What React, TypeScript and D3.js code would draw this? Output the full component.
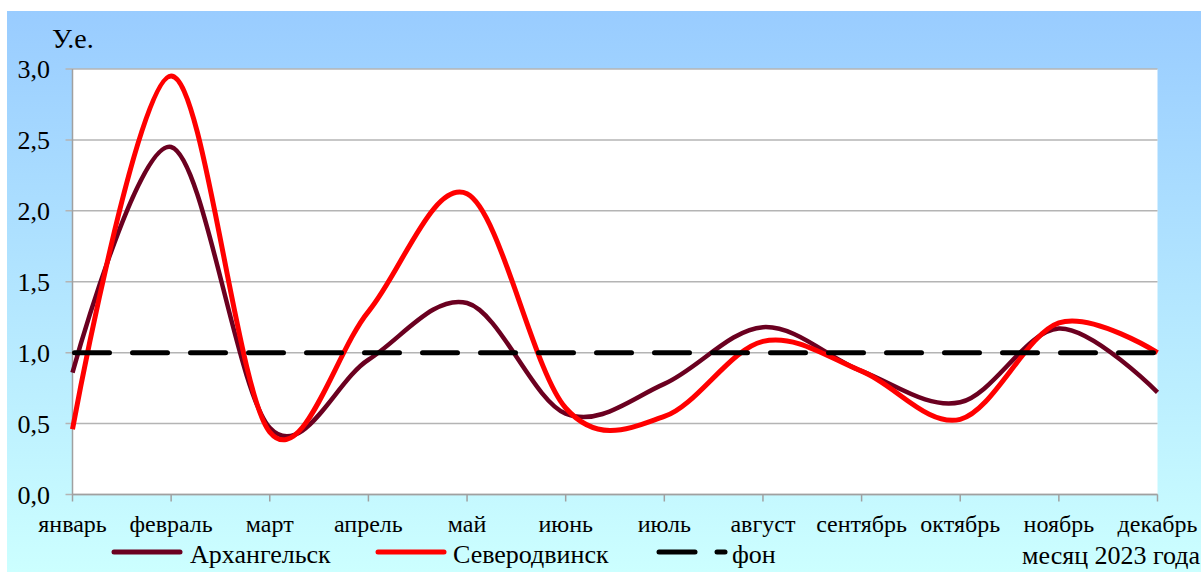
import React from "react";
import * as d3 from "d3";

const months = ["январь", "февраль", "март", "апрель", "май", "июнь", "июль", "август", "сентябрь", "октябрь", "ноябрь", "декабрь"];
const arkhangelsk = [0.86, 2.45, 0.47, 0.95, 1.35, 0.57, 0.78, 1.18, 0.87, 0.65, 1.17, 0.72];
const severodvinsk = [0.46, 2.95, 0.44, 1.29, 2.12, 0.61, 0.55, 1.08, 0.87, 0.53, 1.21, 1.0];
const background = [1.0, 1.0, 1.0, 1.0, 1.0, 1.0, 1.0, 1.0, 1.0, 1.0, 1.0, 1.0];
const yTicks = [0, 0.5, 1.0, 1.5, 2.0, 2.5, 3.0];
const seriesNames = ["Архангельск", "Северодвинск", "фон"];

const W = 1201;
const H = 572;
const left = 72.5;
const right = 1157.5;
const top = 69;
const bottom = 494.5;
const FONT = '"Liberation Serif", "DejaVu Serif", serif';

export default function App() {
  const x = d3.scalePoint<string>().domain(months).range([left, right]);
  const y = d3.scaleLinear().domain([0, 3]).range([bottom, top]);
  const smooth = d3
    .line<number>()
    .x((_, i) => x(months[i]) as number)
    .y((d) => y(d))
    .curve(d3.curveCardinal.tension(0));
  const straight = d3
    .line<number>()
    .x((_, i) => x(months[i]) as number)
    .y((d) => y(d));
  const fmt = (v: number) => v.toFixed(1).replace(".", ",");
  const ts = (size: number) => ({ fontFamily: FONT, fontSize: size + "px" });

  return (
    <svg
      width={W}
      height={H}
      style={{ position: "absolute", left: 0, top: 0, display: "block", fontFamily: FONT }}
    >
      <defs>
        <linearGradient id="bg" x1="0" y1="0" x2="0" y2="1">
          <stop offset="0%" stopColor="#99CCFF" />
          <stop offset="100%" stopColor="#CCFFFF" />
        </linearGradient>
      </defs>
      <rect x={0} y={0} width={W} height={H} fill="#ffffff" />
      <rect x={7} y={11} width={W - 7} height={H - 11} fill="url(#bg)" />
      <rect x={left} y={top} width={right - left} height={bottom - top} fill="#ffffff" />
      {yTicks.map((t) => (
        <g key={t}>
          <line x1={left - 7} x2={right} y1={y(t)} y2={y(t)} stroke="#b4b4b4" strokeWidth={1.5} />
          <text x={50} y={y(t)} dy="0.35em" textAnchor="end" style={ts(26)} fill="#000">
            {fmt(t)}
          </text>
        </g>
      ))}
      <line x1={left} x2={left} y1={top} y2={bottom} stroke="#a0a0a0" strokeWidth={1.5} />
      <line x1={left} x2={right} y1={bottom} y2={bottom} stroke="#a0a0a0" strokeWidth={1.5} />
      {months.map((m) => (
        <g key={m}>
          <line x1={x(m)} x2={x(m)} y1={bottom} y2={bottom + 7} stroke="#a0a0a0" strokeWidth={1.5} />
          <text x={x(m)} y={532} textAnchor="middle" style={ts(24)} fill="#000">
            {m}
          </text>
        </g>
      ))}
      <text x={52} y={48} style={ts(28)} fill="#000">У.е.</text>
      <path d={smooth(arkhangelsk) || ""} fill="none" stroke="#6B0020" strokeWidth={4.5} strokeLinejoin="round" />
      <path d={smooth(severodvinsk) || ""} fill="none" stroke="#FF0000" strokeWidth={5} strokeLinejoin="round" />
      <path
        d={straight(background) || ""}
        fill="none"
        stroke="#000"
        strokeWidth={5}
        strokeDasharray="35 23"
        strokeLinecap="round"
        transform="translate(2,0)"
      />
      {/* legend */}
      <line x1={114} x2={180} y1={552} y2={552} stroke="#6B0020" strokeWidth={5} strokeLinecap="round" />
      <text x={190} y={563} style={ts(26)} fill="#000">{seriesNames[0]}</text>
      <line x1={378} x2={444} y1={552} y2={552} stroke="#FF0000" strokeWidth={5} strokeLinecap="round" />
      <text x={453} y={563} style={ts(26)} fill="#000">{seriesNames[1]}</text>
      <line x1={659} x2={695} y1={552} y2={552} stroke="#000" strokeWidth={5} strokeLinecap="round" />
      <line x1={717} x2={725} y1={552} y2={552} stroke="#000" strokeWidth={5} strokeLinecap="round" />
      <text x={732} y={563} style={ts(26)} fill="#000">{seriesNames[2]}</text>
      <text x={1022} y={564} style={ts(26)} fill="#000">месяц 2023 года</text>
    </svg>
  );
}
